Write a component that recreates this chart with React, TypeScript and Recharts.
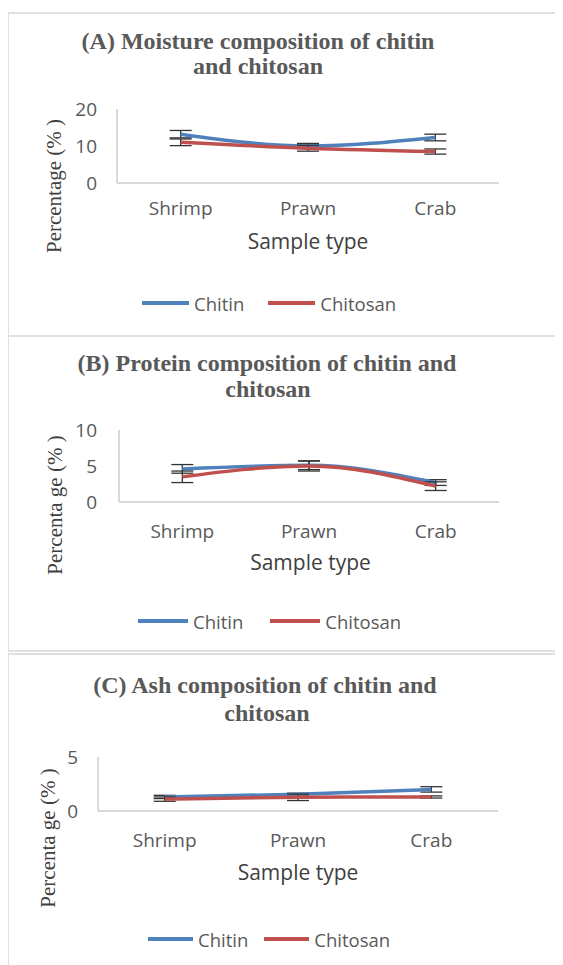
import React from 'react'
import { LineChart, Line, XAxis, YAxis, ErrorBar, Legend } from 'recharts'

const categories = ['Shrimp', 'Prawn', 'Crab']

const moistureChitin = [13.2, 10.0, 12.3]
const moistureChitinErr = [1.0, 0.7, 0.9]
const moistureChitosan = [11.0, 9.4, 8.5]
const moistureChitosanErr = [0.9, 0.8, 0.7]

const proteinChitin = [4.6, 5.1, 2.7]
const proteinChitinErr = [0.6, 0.6, 0.4]
const proteinChitosan = [3.5, 5.0, 2.2]
const proteinChitosanErr = [0.8, 0.7, 0.6]

const ashChitin = [1.3, 1.55, 2.0]
const ashChitinErr = [0.15, 0.1, 0.25]
const ashChitosan = [1.1, 1.27, 1.3]
const ashChitosanErr = [0.2, 0.3, 0.1]

const moistureTicks = [0, 10, 20]
const proteinTicks = [0, 5, 10]
const ashTicks = [0, 5]

const BLUE = '#4F81BD'
const RED = '#C0504D'
const AXIS = '#d9d9d9'
const SANS = '"Open Sans", sans-serif'
const SERIF = '"Liberation Serif", "Times New Roman", serif'

const buildRows = (a: number[], ae: number[], b: number[], be: number[]) =>
  categories.map((c, i) => ({ name: c, chitin: a[i], chitinErr: ae[i], chitosan: b[i], chitosanErr: be[i] }))

interface PanelProps {
  top: number
  height: number
  rows: ReturnType<typeof buildRows>
  ticks: number[]
  plot: { left: number; right: number; top: number; bottom: number }
  xTickMargin: number
  yTickMargin: number
  legendTop: number
  legendLeft: number
  legendGap: number
  legendLine: number
}

function makeLegend(gap: number, lineW: number) {
  return (props: any) => {
    const items = props.payload || []
    return (
      <div style={{ display: 'flex', alignItems: 'center' }}>
        {items.map((p: any, i: number) => (
          <div key={i} style={{ display: 'flex', alignItems: 'center', marginRight: i === 0 ? gap : 0 }}>
            <span style={{ display: 'inline-block', width: lineW, height: 4, background: p.color }} />
            <span style={{ marginLeft: 5, fontFamily: SANS, fontSize: 18.5, color: '#595959' }}>{p.value}</span>
          </div>
        ))}
      </div>
    )
  }
}

function Panel(p: PanelProps) {
  const W = 563
  const plotW = p.plot.right - p.plot.left
  const pad = plotW / 6
  return (
    <div style={{ position: 'absolute', left: 0, top: p.top }}>
      <LineChart
        width={W}
        height={p.height}
        data={p.rows}
        margin={{ top: p.plot.top, left: p.plot.left - 40, right: W - p.plot.right, bottom: p.height - p.plot.bottom - 30 }}
      >
        <XAxis
          dataKey="name"
          padding={{ left: pad, right: pad }}
          height={30}
          tickLine={false}
          tickSize={0}
          tickMargin={p.xTickMargin}
          axisLine={{ stroke: AXIS, strokeWidth: 2 }}
          tick={{ fill: '#595959', fontSize: 19, fontFamily: SANS }}
        />
        <YAxis
          width={40}
          domain={[p.ticks[0], p.ticks[p.ticks.length - 1]]}
          ticks={p.ticks}
          tickLine={false}
          tickSize={0}
          tickMargin={p.yTickMargin}
          axisLine={{ stroke: AXIS, strokeWidth: 2 }}
          tick={{ fill: '#595959', fontSize: 19, fontFamily: SANS }}
        />
        <Legend
          layout="horizontal"
          verticalAlign="middle"
          align="center"
          wrapperStyle={{ top: p.legendTop, left: p.legendLeft, width: 'auto' }}
          content={makeLegend(p.legendGap, p.legendLine)}
        />
        <Line type="monotone" dataKey="chitin" name="Chitin" stroke={BLUE} strokeWidth={3.5} dot={false} isAnimationActive={false}>
          <ErrorBar dataKey="chitinErr" width={11} stroke="#333" strokeWidth={1.3} direction="y" />
        </Line>
        <Line type="monotone" dataKey="chitosan" name="Chitosan" stroke={RED} strokeWidth={3.5} dot={false} isAnimationActive={false}>
          <ErrorBar dataKey="chitosanErr" width={11} stroke="#333" strokeWidth={1.3} direction="y" />
        </Line>
      </LineChart>
    </div>
  )
}

const titleStyle: React.CSSProperties = {
  position: 'absolute', width: 500, textAlign: 'center', fontFamily: SERIF, fontWeight: 'bold',
  fontSize: 24, lineHeight: '25px', color: '#595959', whiteSpace: 'nowrap',
}

function TitleLine({ text, cx, cy }: { text: string; cx: number; cy: number }) {
  return <div style={{ ...titleStyle, left: cx - 250, top: cy - 14 }}>{text}</div>
}

function YTitle({ text, cx, cy }: { text: string; cx: number; cy: number }) {
  return (
    <div style={{
      position: 'absolute', left: cx, top: cy, transform: 'translate(-50%, -50%) rotate(-90deg)',
      fontFamily: SERIF, fontSize: 21, lineHeight: 1, color: '#404040', whiteSpace: 'nowrap',
    }}>{text}</div>
  )
}

function XTitle({ cx, top }: { cx: number; top: number }) {
  return (
    <div style={{
      position: 'absolute', left: cx - 100, top, width: 200, textAlign: 'center',
      fontFamily: SANS, fontSize: 21, lineHeight: 1, color: '#404040',
    }}>Sample type</div>
  )
}

const border = '2px solid #e0e0e0'

export default function App() {
  return (
    <div style={{ position: 'relative', width: 563, height: 965, marginLeft: -8, marginTop: -8, overflow: 'hidden', background: '#fff' }}>
      <div style={{ position: 'absolute', left: 7, top: 12, width: 600, height: 321, borderTop: border, borderLeft: border, borderBottom: border }} />
      <div style={{ position: 'absolute', left: 7, top: 334, width: 600, height: 316, borderLeft: border, borderBottom: border }} />
      <div style={{ position: 'absolute', left: 7, top: 653, width: 600, height: 400, borderTop: border, borderLeft: border }} />

      <TitleLine text="(A) Moisture composition of chitin" cx={258} cy={42.5} />
      <TitleLine text="and chitosan" cx={258} cy={68} />
      <TitleLine text="(B) Protein composition of chitin and" cx={267} cy={365} />
      <TitleLine text="chitosan" cx={268} cy={391} />
      <TitleLine text="(C) Ash composition of chitin and" cx={265} cy={687} />
      <TitleLine text="chitosan" cx={267} cy={715} />

      <Panel
        top={0} height={333} rows={buildRows(moistureChitin, moistureChitinErr, moistureChitosan, moistureChitosanErr)}
        ticks={moistureTicks} plot={{ left: 117, right: 499, top: 109, bottom: 183 }}
        xTickMargin={19} yTickMargin={20} legendTop={290.7} legendLeft={142} legendGap={24} legendLine={47}
      />
      <Panel
        top={335} height={317} rows={buildRows(proteinChitin, proteinChitinErr, proteinChitosan, proteinChitosanErr)}
        ticks={proteinTicks} plot={{ left: 119, right: 499, top: 95, bottom: 167 }}
        xTickMargin={23} yTickMargin={22} legendTop={273.7} legendLeft={138} legendGap={27} legendLine={50}
      />
      <Panel
        top={654} height={311} rows={buildRows(ashChitin, ashChitinErr, ashChitosan, ashChitosanErr)}
        ticks={ashTicks} plot={{ left: 98, right: 498, top: 103, bottom: 157 }}
        xTickMargin={23} yTickMargin={20} legendTop={272.7} legendLeft={148} legendGap={16} legendLine={45}
      />

      <YTitle text="Percentage (% )" cx={53.5} cy={186} />
      <YTitle text="Percenta ge (% )" cx={55} cy={505} />
      <YTitle text="Percenta ge (% )" cx={47.5} cy={838} />

      <XTitle cx={308} top={231} />
      <XTitle cx={310.5} top={552} />
      <XTitle cx={298} top={862} />
    </div>
  )
}
